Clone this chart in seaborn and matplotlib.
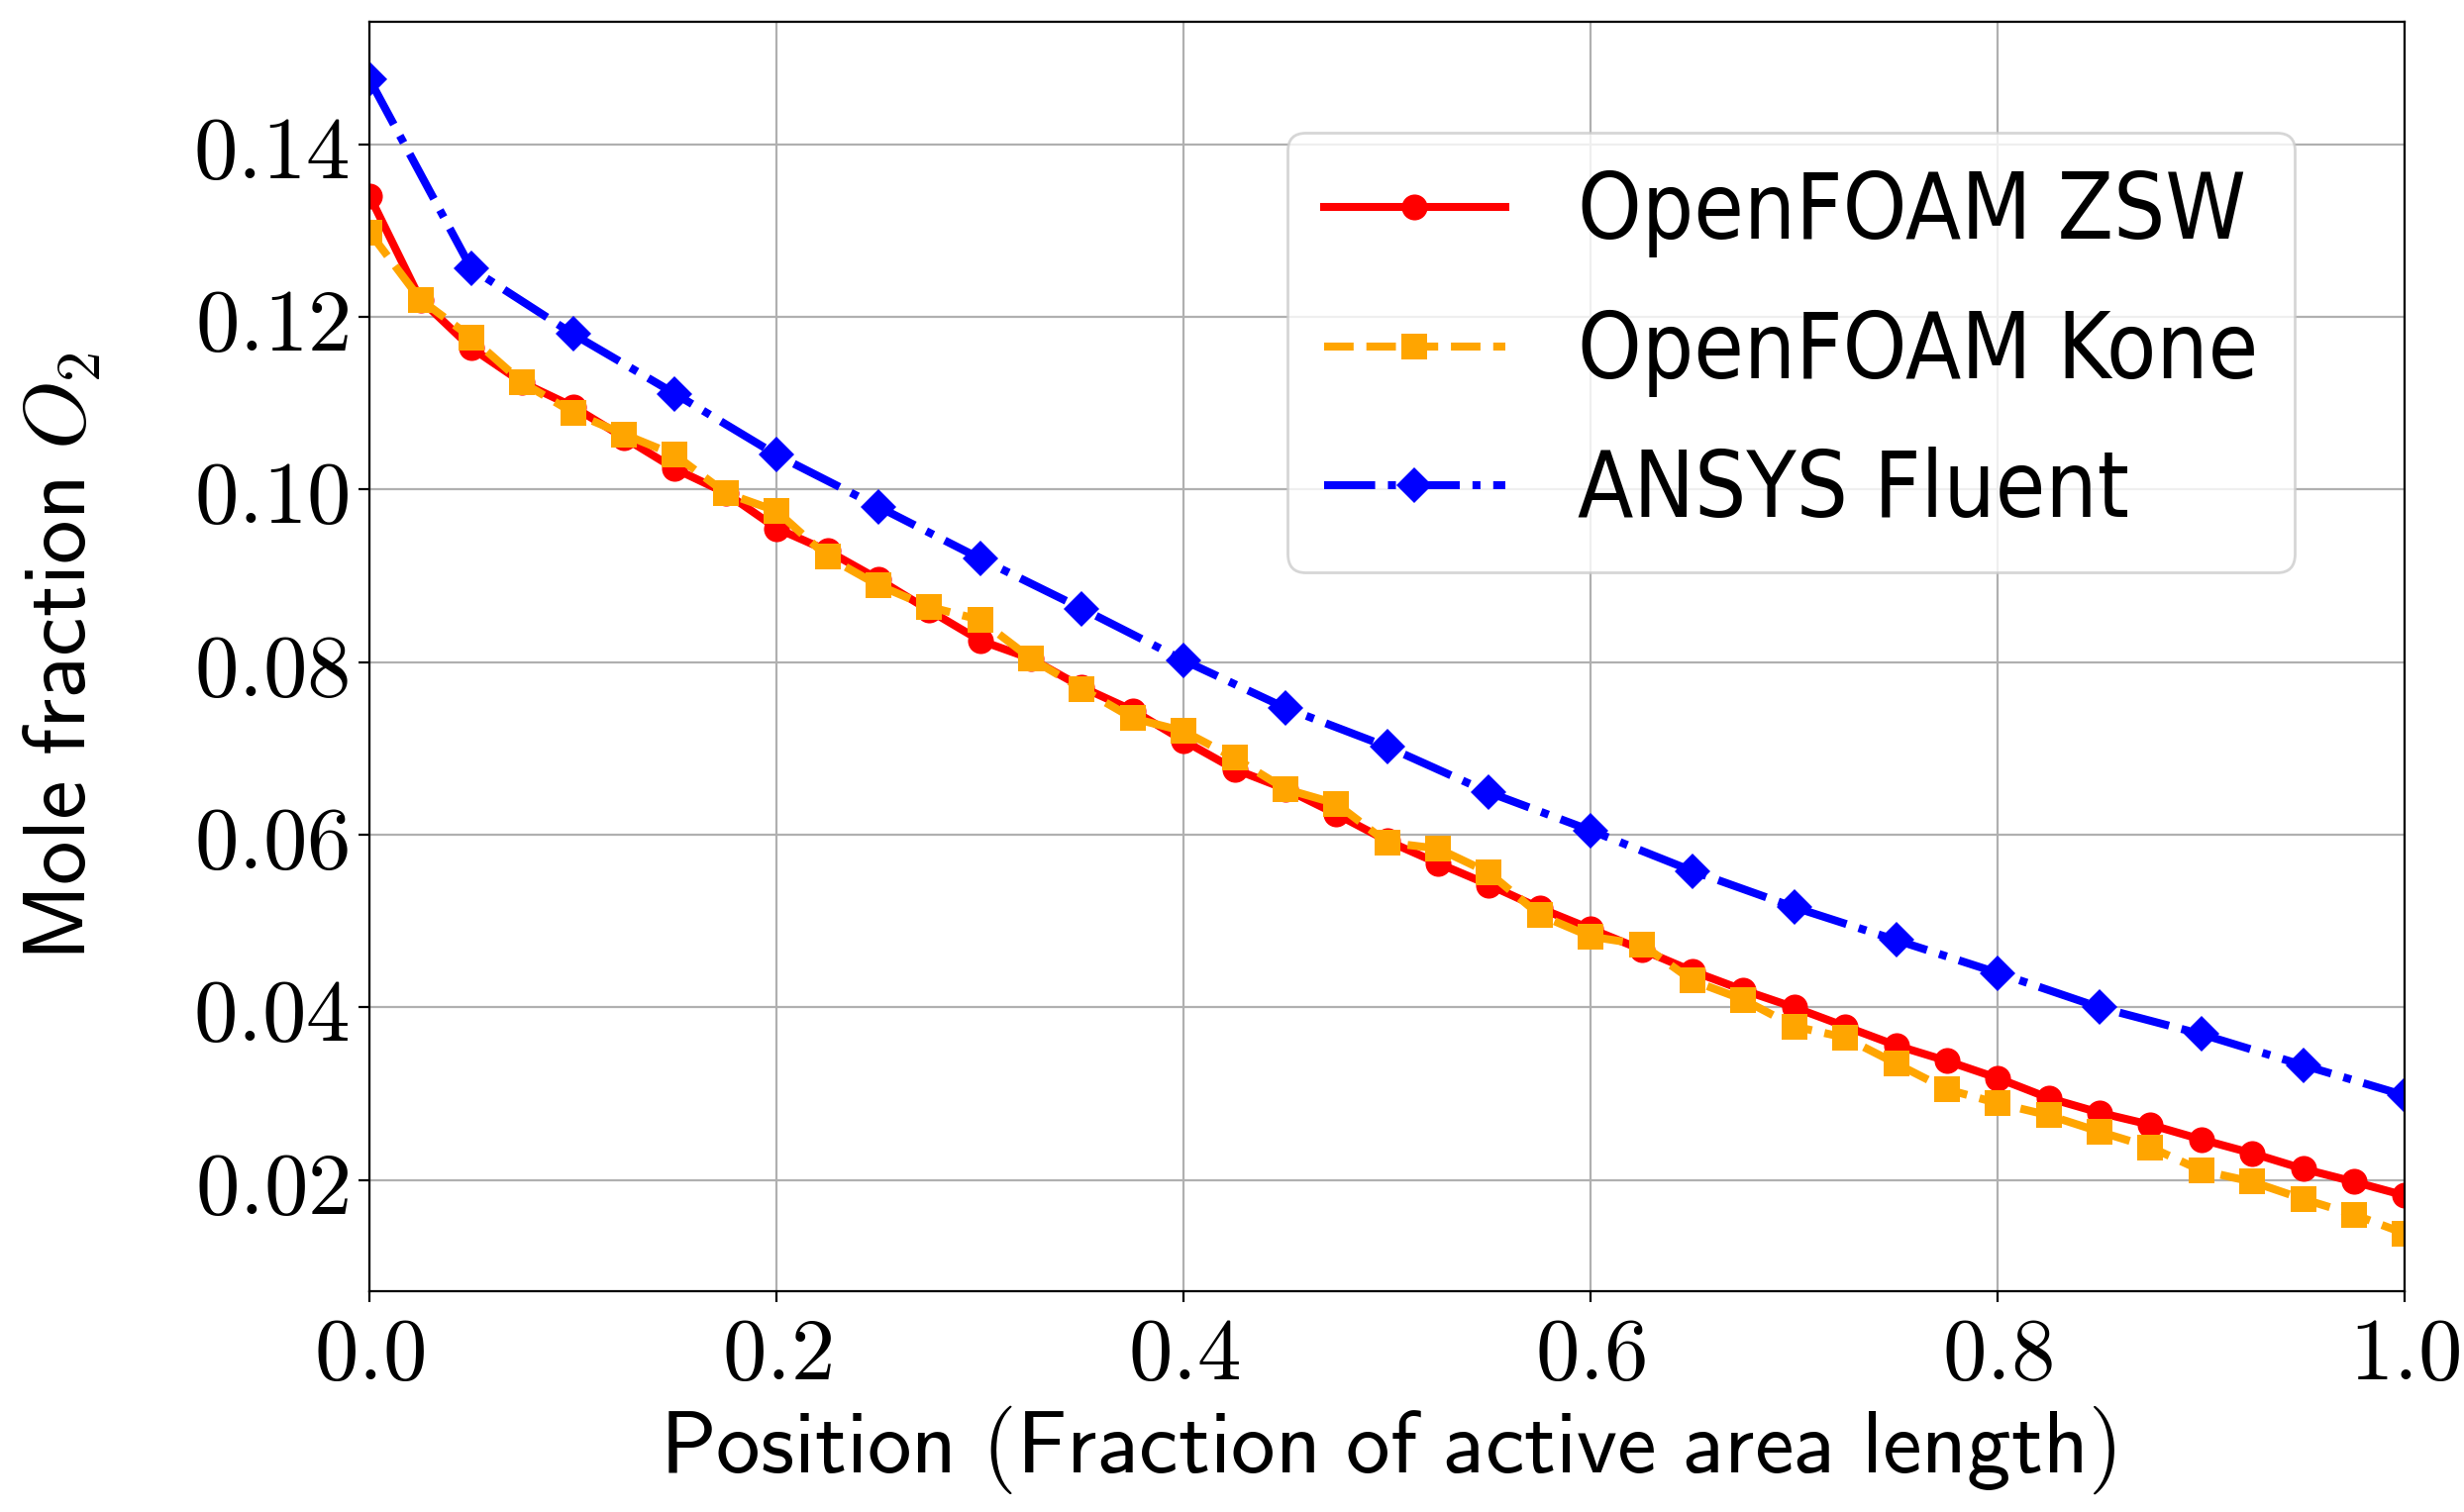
import numpy as np
import pandas as pd
import matplotlib
matplotlib.use("Agg")
import matplotlib.pyplot as plt
from matplotlib.ticker import FuncFormatter, MultipleLocator
import seaborn as sns

# ---- data ----
x_fine = [round(i * 0.025, 3) for i in range(41)]
zsw = [0.1340, 0.1220, 0.1164, 0.1124, 0.1096, 0.1060, 0.1024, 0.0996, 0.0955, 0.0929,
       0.0896, 0.0860, 0.0825, 0.0804, 0.0771, 0.0744, 0.0709, 0.0676, 0.0653, 0.0624,
       0.0593, 0.0567, 0.0542, 0.0515, 0.0491, 0.0467, 0.0442, 0.0420, 0.0400, 0.0378,
       0.0356, 0.0338, 0.0318, 0.0295, 0.0278, 0.0264, 0.0247, 0.0231, 0.0213, 0.0198,
       0.0182]
kone = [0.1298, 0.1220, 0.1176, 0.1124, 0.1089, 0.1064, 0.1040, 0.0996, 0.0975, 0.0922,
        0.0889, 0.0864, 0.0849, 0.0804, 0.0769, 0.0735, 0.0720, 0.0689, 0.0653, 0.0636,
        0.0591, 0.0584, 0.0556, 0.0507, 0.0482, 0.0473, 0.0431, 0.0409, 0.0378, 0.0365,
        0.0335, 0.0305, 0.0289, 0.0275, 0.0256, 0.0238, 0.0211, 0.0198, 0.0178, 0.0160,
        0.0138]
x_coarse = [round(i * 0.05, 3) for i in range(21)]
fluent = [0.1475, 0.1256, 0.1180, 0.1111, 0.1040, 0.0980, 0.0920, 0.0862, 0.0802, 0.0747,
          0.0702, 0.0649, 0.0605, 0.0558, 0.0516, 0.0478, 0.0440, 0.0400, 0.0369, 0.0333,
          0.0298]
labels = ["OpenFOAM ZSW", "OpenFOAM Kone", "ANSYS Fluent"]

plt.rcParams["mathtext.fontset"] = "cm"
plt.rcParams["font.family"] = ["DejaVu Sans"]

fig = plt.figure(figsize=(12.44, 7.635), dpi=200)
ax = fig.add_axes([0.150, 0.146, 0.976 - 0.150, 0.9856 - 0.146])

lw = 2.9
ms = 9.4
sns.lineplot(data=pd.DataFrame({"x": x_fine, "y": zsw}), x="x", y="y", ax=ax,
             color="red", linestyle="-", marker="o", markersize=ms, lw=lw,
             markeredgewidth=0, label=labels[0])
sns.lineplot(data=pd.DataFrame({"x": x_fine, "y": kone}), x="x", y="y", ax=ax,
             color="orange", linestyle="--", marker="s", markersize=ms, lw=lw,
             markeredgewidth=0, label=labels[1])
sns.lineplot(data=pd.DataFrame({"x": x_coarse, "y": fluent}), x="x", y="y", ax=ax,
             color="blue", linestyle="-.", marker="D", markersize=ms, lw=lw,
             markeredgewidth=0, label=labels[2])

ax.set_xlim(0, 1)
ax.xaxis.set_major_locator(MultipleLocator(0.2))
ax.yaxis.set_major_locator(MultipleLocator(0.02))
ax.xaxis.set_major_formatter(FuncFormatter(lambda v, p: r"$%.1f$" % v))
ax.yaxis.set_major_formatter(FuncFormatter(lambda v, p: r"$%.2f$" % v))
ax.tick_params(labelsize=32, length=4, width=0.8)
ax.grid(True, color="#b0b0b0", lw=0.8)
ax.set_axisbelow(True)

ax.set_xlabel(r"$\mathsf{Position\ (Fraction\ of\ active\ area\ length)}$", fontsize=32, labelpad=2)
ax.set_ylabel(r"$\mathsf{Mole\ fraction}\ O_2$", fontsize=32, labelpad=32)

ax.legend(loc="upper right", bbox_to_anchor=(0.946, 0.913), borderaxespad=0,
          prop={"family": "DejaVu Sans", "stretch": "condensed", "size": 33},
          handlelength=2.0, handletextpad=0.8, labelspacing=0.55)

fig.savefig("out.png", dpi=200)
